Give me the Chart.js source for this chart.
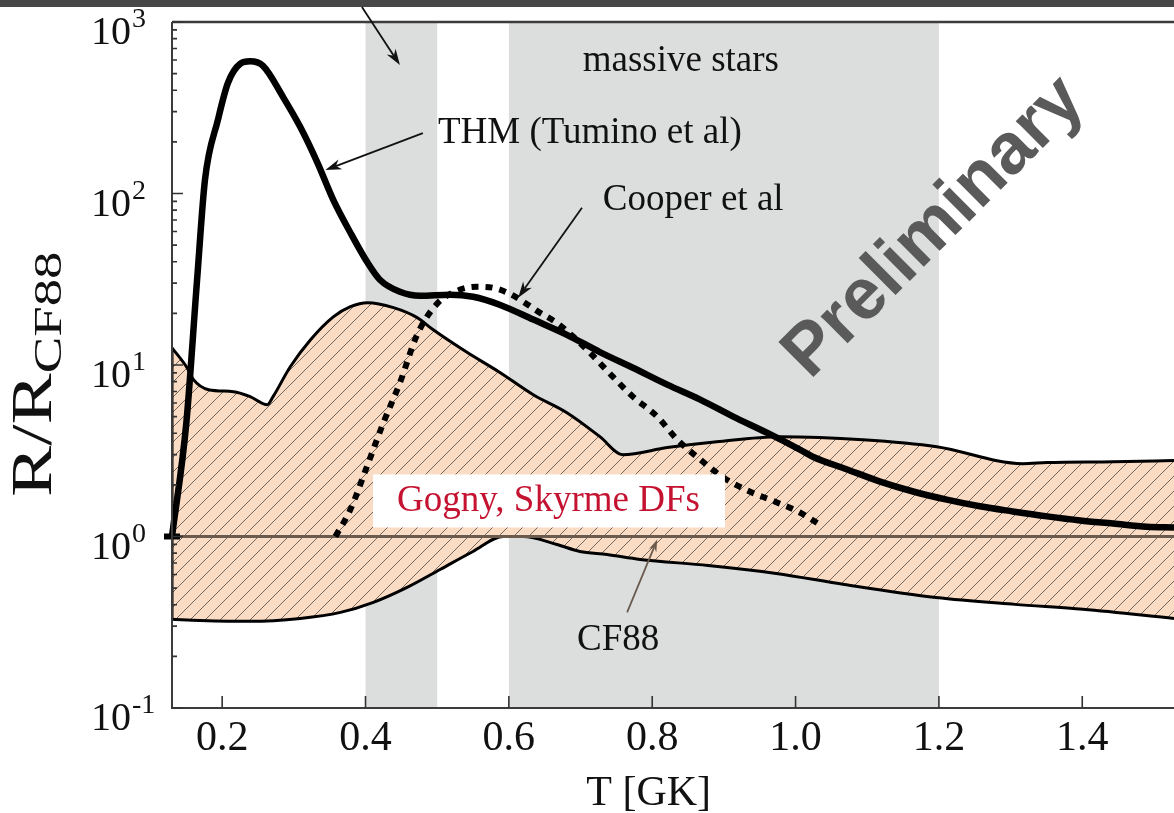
<!DOCTYPE html>
<html>
<head>
<meta charset="utf-8">
<title>R/R CF88 vs T</title>
<script src="https://cdn.jsdelivr.net/npm/chart.js@4.4.1/dist/chart.umd.min.js"></script>
<style>
    html, body { margin: 0; padding: 0; background: #ffffff; }
    #wrap { width: 1174px; height: 813px; position: relative; }
</style>
</head>
<body>
<div id="wrap"><canvas id="rateRatio"></canvas></div>
<script>
"use strict";

// ------------------------------------------------------- //
// Data: T in GK, ratio R/R_CF88
// ------------------------------------------------------ //
var T_THM = [0.130, 0.150, 0.165, 0.176, 0.194, 0.208, 0.225, 0.239, 0.257, 0.285, 0.309, 0.333, 0.355, 0.379, 0.403, 0.420, 0.448, 0.476, 0.518, 0.550, 0.588, 0.634, 0.681, 0.727, 0.773, 0.821, 0.867, 0.913, 0.960, 1.006, 1.024, 1.072, 1.118, 1.164, 1.211, 1.257, 1.303, 1.351, 1.397, 1.443, 1.490, 1.528];
var R_THM = [1.0, 4.6, 31.4, 120, 268, 441, 570, 590, 555, 365, 244, 151, 91.8, 59, 39.4, 31.4, 26.7, 25.3, 25.7, 25.0, 22.4, 18.4, 15.0, 11.9, 9.64, 7.68, 6.28, 5.00, 4.03, 3.21, 2.92, 2.46, 2.09, 1.83, 1.64, 1.50, 1.40, 1.31, 1.24, 1.19, 1.14, 1.13];

var T_COOPER = [0.358, 0.379, 0.402, 0.425, 0.448, 0.472, 0.500, 0.532, 0.556, 0.578, 0.598, 0.616, 0.643, 0.667, 0.690, 0.713, 0.745, 0.773, 0.807, 0.835, 0.867, 0.899, 0.936, 0.974, 1.006, 1.034];
var R_COOPER = [1.0, 1.44, 2.56, 4.61, 7.88, 15.0, 22.8, 27.5, 28.6, 28.2, 26.4, 24.0, 20.2, 17.6, 14.6, 11.8, 8.55, 6.54, 5.00, 3.67, 2.81, 2.21, 1.83, 1.58, 1.38, 1.17];

// Gogny / Skyrme DF band, upper and lower edges
var T_DF_UP = [0.130, 0.151, 0.160, 0.181, 0.216, 0.239, 0.263, 0.271, 0.295, 0.323, 0.355, 0.379, 0.403, 0.439, 0.472, 0.494, 0.541, 0.588, 0.634, 0.681, 0.727, 0.759, 0.821, 0.890, 0.978, 1.094, 1.197, 1.317, 1.351, 1.443, 1.528];
var R_DF_UP = [12.6, 9.64, 8.21, 7.18, 6.99, 6.54, 5.87, 6.54, 9.77, 14.0, 19.1, 21.9, 23.1, 21.6, 18.9, 16.1, 11.9, 9.02, 6.71, 5.27, 3.82, 3.00, 3.30, 3.57, 3.82, 3.67, 3.34, 2.66, 2.70, 2.73, 2.77];
var T_DF_LO = [0.130, 0.169, 0.239, 0.309, 0.365, 0.411, 0.458, 0.504, 0.550, 0.592, 0.620, 0.667, 0.699, 0.737, 0.783, 0.878, 0.973, 1.068, 1.196, 1.306, 1.401, 1.528];
var R_DF_LO = [0.329, 0.324, 0.320, 0.333, 0.361, 0.413, 0.505, 0.642, 0.818, 1.0, 1.0, 0.898, 0.818, 0.785, 0.735, 0.678, 0.609, 0.525, 0.441, 0.402, 0.376, 0.333];

// CF88 reference (ratio = 1)
var T_CF88 = [0.130, 1.528];
var R_CF88 = [1, 1];

// shaded temperature windows
var WINDOW_FROM = [0.4, 0.6];
var WINDOW_TO = [0.5, 1.2];

var X_TICKS = [0.2, 0.4, 0.6, 0.8, 1.0, 1.2, 1.4];
var Y_DECADES = [-1, 0, 1, 2, 3];

// ------------------------------------------------------- //
// Helpers
// ------------------------------------------------------ //
var serif = "'Liberation Serif', 'Times New Roman', serif";
var peach = "#fadcc4";
var windowGray = "#dcdedd";
var cf88Brown = "#6b5b4f";

function pts(xs, ys) {
    return xs.map(function (x, i) { return { x: x, y: ys[i] }; });
}

function hatchPattern() {
    var c = document.createElement("canvas");
    c.width = 15;
    c.height = 15;
    var g = c.getContext("2d");
    g.fillStyle = peach;
    g.fillRect(0, 0, 15, 15);
    g.strokeStyle = "#74675e";
    g.lineWidth = 1;
    g.beginPath();
    g.moveTo(-2, 17); g.lineTo(17, -2);
    g.moveTo(-2, 2); g.lineTo(2, -2);
    g.moveTo(13, 17); g.lineTo(17, 13);
    g.stroke();
    return g.createPattern(c, "repeat");
}

function arrow(ctx, x0, y0, x1, y1, color, head) {
    var a = Math.atan2(y1 - y0, x1 - x0);
    var c = Math.cos(a), s = Math.sin(a);
    ctx.strokeStyle = color;
    ctx.fillStyle = color;
    ctx.lineWidth = 1.8;
    ctx.beginPath();
    ctx.moveTo(x0, y0);
    ctx.lineTo(x1 - c * head * 0.7, y1 - s * head * 0.7);
    ctx.stroke();
    ctx.beginPath();
    ctx.moveTo(x1, y1);
    ctx.lineTo(x1 - head * c + head * 0.33 * s, y1 - head * s - head * 0.33 * c);
    ctx.lineTo(x1 - head * 0.7 * c, y1 - head * 0.7 * s);
    ctx.lineTo(x1 - head * c - head * 0.33 * s, y1 - head * s + head * 0.33 * c);
    ctx.closePath();
    ctx.fill();
}

// ------------------------------------------------------- //
// Frame, ticks, labels and annotations
// ------------------------------------------------------ //
var decor = {
    id: "decor",
    beforeDatasetsDraw: function (chart) {
        var ctx = chart.ctx, area = chart.chartArea, xs = chart.scales.x;
        ctx.save();
        ctx.fillStyle = windowGray;
        for (var i = 0; i < WINDOW_FROM.length; i++) {
            var x0 = xs.getPixelForValue(WINDOW_FROM[i]);
            var x1 = xs.getPixelForValue(WINDOW_TO[i]);
            ctx.fillRect(x0, area.top, x1 - x0, area.bottom - area.top);
        }
        ctx.restore();
    },
    afterDatasetsDraw: function (chart) {
        var ctx = chart.ctx, area = chart.chartArea;
        var xs = chart.scales.x, ys = chart.scales.y;
        var px = function (v) { return xs.getPixelForValue(v); };
        var py = function (v) { return ys.getPixelForValue(v); };
        ctx.save();

        // slide rule across the top
        ctx.fillStyle = "#474747";
        ctx.fillRect(0, 0, chart.width, 7);

        // label box for the DF band
        ctx.font = "37px " + serif;
        var gx = px(0.444), gy = py(1.40);
        var gw = ctx.measureText("Gogny, Skyrme DFs").width;
        ctx.fillStyle = "#ffffff";
        ctx.fillRect(gx - 24, gy - 37, gw + 49, 53);
        ctx.fillStyle = "#c41230";
        ctx.textAlign = "left";
        ctx.textBaseline = "alphabetic";
        ctx.fillText("Gogny, Skyrme DFs", gx, gy);

        // frame
        ctx.strokeStyle = "#3c3c3c";
        ctx.lineWidth = 2.5;
        ctx.beginPath();
        ctx.moveTo(area.left, area.top);
        ctx.lineTo(area.right, area.top);
        ctx.stroke();
        ctx.lineWidth = 2;
        ctx.beginPath();
        ctx.moveTo(area.left, area.top);
        ctx.lineTo(area.left, area.bottom);
        ctx.lineTo(area.right, area.bottom);
        ctx.stroke();

        // inward ticks
        ctx.lineWidth = 1.6;
        ctx.strokeStyle = "#333333";
        ctx.beginPath();
        X_TICKS.forEach(function (t) {
            ctx.moveTo(px(t), area.bottom);
            ctx.lineTo(px(t), area.bottom - 12);
        });
        Y_DECADES.forEach(function (e) {
            var y = py(Math.pow(10, e));
            ctx.moveTo(area.left, y);
            ctx.lineTo(area.left + 11, y);
            if (e < 3) {
                for (var m = 2; m < 10; m++) {
                    var ym = py(m * Math.pow(10, e));
                    ctx.moveTo(area.left, ym);
                    ctx.lineTo(area.left + 5, ym);
                }
            }
        });
        ctx.stroke();

        // y tick labels 10^n
        ctx.fillStyle = "#111111";
        ctx.textAlign = "left";
        Y_DECADES.forEach(function (e) {
            var y = py(Math.pow(10, e)) + 22;
            ctx.font = "40px " + serif;
            ctx.fillText("10", 91, y);
            ctx.font = "28px " + serif;
            ctx.fillText(String(e), 132, y - 17);
        });

        // axis titles
        ctx.font = "42px " + serif;
        ctx.textAlign = "center";
        ctx.fillText("T [GK]", px(0.795), area.bottom + 97);

        ctx.save();
        ctx.translate(51, 497);
        ctx.rotate(-Math.PI / 2);
        ctx.scale(1.37, 1);
        ctx.textAlign = "left";
        ctx.font = "56px " + serif;
        ctx.fillText("R/R", 0, 0);
        var rw = ctx.measureText("R/R").width;
        ctx.font = "40px " + serif;
        ctx.fillText("CF88", rw, 10);
        ctx.restore();

        // curve labels
        ctx.font = "37px " + serif;
        ctx.textAlign = "left";
        ctx.fillStyle = "#111111";
        ctx.fillText("massive stars", px(0.703), py(518));
        ctx.fillText("THM (Tumino et al)", px(0.501), py(197));
        ctx.fillText("Cooper et al", px(0.731), py(80.2));
        ctx.fillText("CF88", px(0.695), py(0.217));

        // arrows
        arrow(ctx, px(0.395), 7, px(0.448), py(561), "#111111", 16);
        arrow(ctx, px(0.480), py(225), px(0.344), py(137), "#111111", 16);
        arrow(ctx, px(0.702), py(82.5), px(0.613), py(24.7), "#111111", 16);
        arrow(ctx, px(0.765), py(0.361), px(0.807), py(0.96), cf88Brown, 12);

        // watermark
        ctx.save();
        ctx.translate(px(1.194), py(63));
        ctx.rotate(-Math.PI / 4);
        ctx.font = "bold 72px 'Liberation Sans', Arial, sans-serif";
        ctx.fillStyle = "#5a5a5a";
        ctx.textAlign = "center";
        ctx.textBaseline = "middle";
        ctx.fillText("Preliminary", 0, 0);
        ctx.restore();

        ctx.restore();
    },
};

// ------------------------------------------------------- //
// Chart
// ------------------------------------------------------ //
var RATECHART = document.getElementById("rateRatio");
var myRateChart = new Chart(RATECHART, {
    type: "line",
    plugins: [decor],
    data: {
        datasets: [
        {
            label: "DF upper",
            data: pts(T_DF_UP, R_DF_UP),
            borderColor: "#000000",
            borderWidth: 3,
            backgroundColor: hatchPattern(),
            fill: "+1",
            pointRadius: 0,
            cubicInterpolationMode: "monotone",
            order: 5,
        },
        {
            label: "DF lower",
            data: pts(T_DF_LO, R_DF_LO),
            borderColor: "#000000",
            borderWidth: 3,
            fill: false,
            pointRadius: 0,
            cubicInterpolationMode: "monotone",
            order: 4,
        },
        {
            label: "DF edge",
            data: [{ x: T_DF_UP[0], y: R_DF_UP[0] }, { x: T_DF_LO[0], y: R_DF_LO[0] }],
            borderColor: "#000000",
            borderWidth: 3,
            fill: false,
            pointRadius: 0,
            order: 4,
        },
        {
            label: "CF88",
            data: pts(T_CF88, R_CF88),
            borderColor: cf88Brown,
            borderWidth: 3,
            fill: false,
            pointRadius: 0,
            order: 3,
        },
        {
            label: "Cooper et al",
            data: pts(T_COOPER, R_COOPER),
            borderColor: "#000000",
            borderWidth: 6,
            borderDash: [7, 7],
            borderCapStyle: "butt",
            fill: false,
            pointRadius: 0,
            cubicInterpolationMode: "monotone",
            order: 2,
        },
        {
            label: "THM (Tumino et al)",
            data: pts(T_THM, R_THM),
            borderColor: "#000000",
            borderWidth: 6.5,
            borderJoinStyle: "round",
            fill: false,
            pointStyle: "line",
            pointRadius: function (c) { return c.dataIndex === 0 ? 8 : 0; },
            pointBorderWidth: 6,
            pointBorderColor: "#000000",
            cubicInterpolationMode: "monotone",
            clip: false,
            order: 1,
        },
        ],
    },
    options: {
        responsive: true,
        maintainAspectRatio: false,
        animation: false,
        devicePixelRatio: 1,
        layout: {
            autoPadding: false,
            padding: { left: 172, right: 0, top: 22, bottom: 43 },
        },
        plugins: {
            legend: { display: false },
            tooltip: { enabled: false },
        },
        scales: {
            x: {
                type: "linear",
                min: 0.13,
                max: 1.528,
                afterBuildTicks: function (scale) {
                    scale.ticks = X_TICKS.map(function (v) { return { value: v }; });
                },
                afterFit: function (scale) {
                    scale.paddingLeft = 0;
                    scale.paddingRight = 0;
                },
                grid: { display: false, drawTicks: false },
                border: { display: false },
                ticks: {
                    padding: 10,
                    color: "#111111",
                    font: { family: serif, size: 42, lineHeight: 1 },
                    maxRotation: 0,
                    callback: function (v) { return v.toFixed(1); },
                },
            },
            y: {
                type: "logarithmic",
                min: 0.1,
                max: 1000,
                display: false,
            },
        },
    },
});
</script>
</body>
</html>
